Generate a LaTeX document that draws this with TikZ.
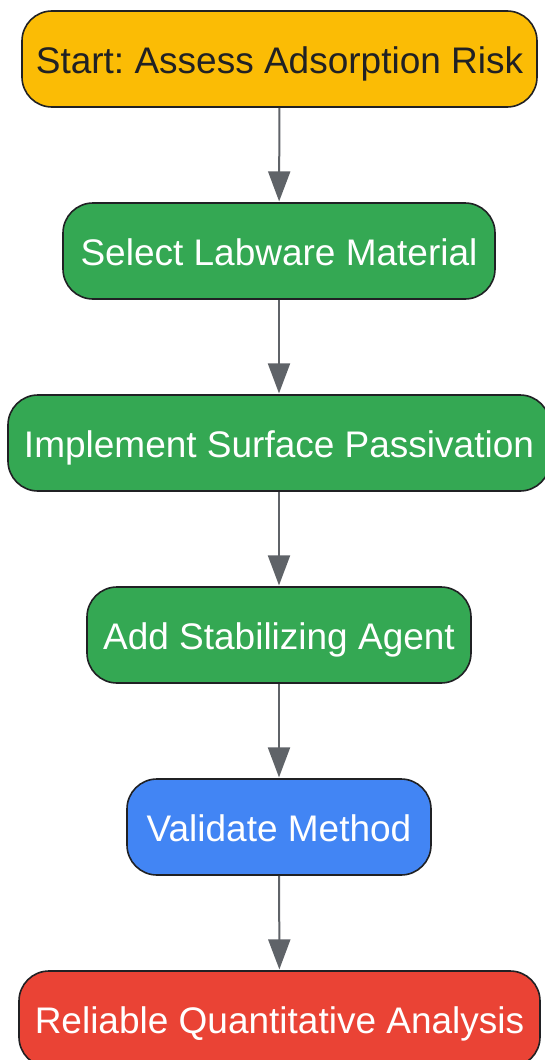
\documentclass[tikz,border=0pt]{standalone}
\usepackage{fontspec}
\setmainfont{Liberation Sans}
\usetikzlibrary{arrows.meta}
\definecolor{cyellow}{HTML}{FBBC05}
\definecolor{cgreen}{HTML}{34A853}
\definecolor{cblue}{HTML}{4285F4}
\definecolor{cred}{HTML}{EA4335}
\definecolor{cdark}{HTML}{202124}
\definecolor{cedge}{HTML}{5F6368}
\frenchspacing
\begin{document}
\begin{tikzpicture}[x=1pt,y=-1pt,
  box/.style={draw=cdark, line width=1.6pt, rounded corners=30pt, minimum height=96pt,
    inner sep=0pt, text height=28pt, text depth=0pt,
    font=\fontsize{37}{42}\selectfont, text=white},
  flow/.style={draw=cedge, line width=2pt, -{Triangle[length=30pt,width=22pt]}, shorten >=0.8pt}]
\useasboundingbox (0,0) rectangle (545,1060);
\node[box, fill=cyellow, text=cdark, minimum width=515pt] (n1) at (279.5,59) {Start: Assess Adsorption Risk};
\node[box, fill=cgreen, minimum width=432pt] (n2) at (279,251) {Select Labware Material};
\node[box, fill=cgreen, minimum width=542pt] (n3) at (279,443) {Implement Surface Passivation};
\node[box, fill=cgreen, minimum width=384pt] (n4) at (279,635) {Add Stabilizing Agent};
\node[box, fill=cblue, minimum width=304pt] (n5) at (279,827) {Validate Method};
\node[box, fill=cred, minimum width=521pt] (n6) at (279.5,1019) {Reliable Quantitative Analysis};
\draw[flow] (n1) -- (n2);
\draw[flow] (n2) -- (n3);
\draw[flow] (n3) -- (n4);
\draw[flow] (n4) -- (n5);
\draw[flow] (n5) -- (n6);
\end{tikzpicture}
\end{document}
